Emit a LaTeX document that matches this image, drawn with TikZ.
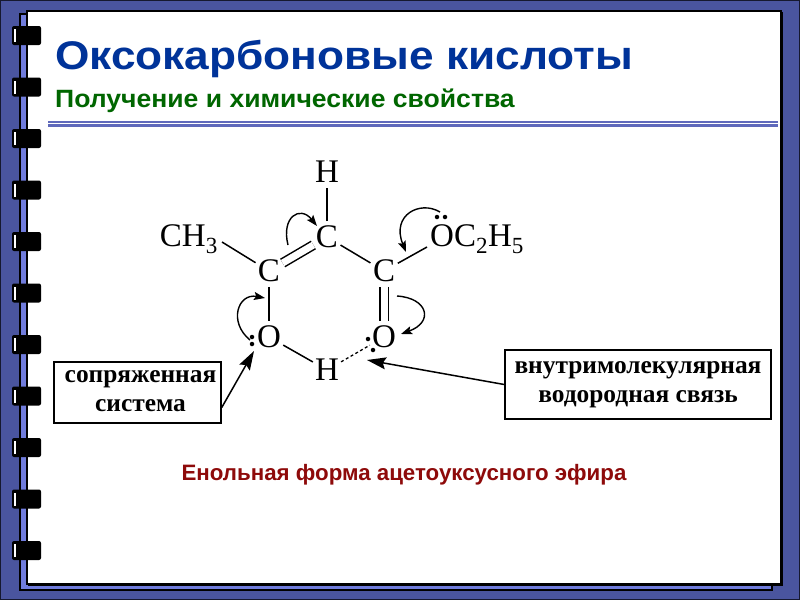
\documentclass[tikz,border=0pt]{standalone}
\usepackage{fontspec}
\setmainfont{Liberation Serif}
\setsansfont{Liberation Sans}
\usetikzlibrary{arrows.meta,positioning}
\definecolor{slideblue}{HTML}{4A559F}
\definecolor{stripblue}{HTML}{707CDC}
\definecolor{titleblue}{HTML}{003399}
\definecolor{subgreen}{HTML}{006600}
\definecolor{captionred}{HTML}{8E0A0A}
\newcommand{\boxline}[1]{\raisebox{3pt}{\hspace*{6pt}#1}}
\tikzset{
  atom/.style={circle, inner sep=0pt, font=\fontsize{33}{36}\selectfont},
  group/.style={inner sep=0pt, font=\fontsize{33}{36}\selectfont},
  bond/.style={line width=1.5pt},
  dbond/.style={double, double distance=7pt, line width=1.5pt},
  hbond/.style={line width=1.3pt, dash pattern=on 3pt off 2.5pt},
  pair/.style={circle, fill=black, inner sep=0pt, minimum size=4.5pt},
  shift arrow/.style={line width=1.4pt, -{Stealth[length=11pt,width=8pt,inset=2pt]}},
  callout/.style={draw, line width=1.5pt, align=center, inner sep=0pt,
    font=\fontsize{25.4}{28.5}\selectfont\bfseries},
  callout arrow/.style={line width=1.5pt, -{Stealth[length=19pt,width=12pt,inset=3pt]}}
}
\begin{document}
\begin{tikzpicture}[x=1pt, y=-1pt, on grid]
    \useasboundingbox (0,0) rectangle (800,600);

    % page
    \fill[slideblue] (0,0) rectangle (800,600);
    \draw[black!70!slideblue, line width=1pt] (0.5,0.5) rectangle (799.5,599.5);
    \draw[fill=stripblue, line width=1.5pt] (20,14) rectangle (772,590);
    \draw[fill=white, line width=1.5pt] (27,11) rectangle (781,584);
    \draw[line width=1.5pt] (782.5,12) -- (782.5,585.5) -- (28,585.5);

    % rings
    \foreach \ringy in {26,77.5,129,180.5,232,283.5,335,386.5,438,489.5,541}
    {
      \fill[black, rounded corners=2pt] (12,\ringy) rectangle (41,\ringy+19);
      \fill[white] (13.5,\ringy+3) rectangle (16,\ringy+16);
    }

    \node[anchor=base west, font=\fontsize{40}{44}\selectfont\sffamily\bfseries\addfontfeature{FakeStretch=1.105}, text=titleblue, inner sep=0pt] (title) at (55,69) {Оксокарбоновые кислоты};
    \node[anchor=base west, font=\fontsize{25}{28}\selectfont\sffamily\bfseries\addfontfeature{FakeStretch=1.062}, text=subgreen, inner sep=0pt] (subtitle) at (55,107) {Получение и химические свойства};
    \fill[stripblue!85!black] (48,121) rectangle (778,123);
    \fill[stripblue!85!black] (48,124.2) rectangle (778,127);

    % molecule
    \node[atom] (C1) at (327,237) {C};
    \node[atom] (H1) [above=65pt of C1] {H};
    \node[atom] (C2) [below left=34pt and 58pt of C1] {C};
    \node[atom] (C3) [below right=34pt and 57pt of C1] {C};
    \node[atom] (O1) [below=66pt of C2] {O};
    \node[atom] (O2) [below=66pt of C3] {O};
    \node[atom] (H2) at (327,370) {H};
    \node[group, anchor=east] (CH3) at (218,239) {CH\textsubscript{3}};
    \node[group, anchor=west] (OEt) at (430,239) {OC\textsubscript{2}H\textsubscript{5}};

    \path (C1) edge [bond] (H1)
          (C2) edge [dbond] (C1)
          (C1) edge [bond] (C3)
          ([xshift=4pt,yshift=-3pt]CH3.east) edge [bond] (C2)
          (C3) edge [bond] ([xshift=-3pt,yshift=-8pt]OEt.west)
          (C2) edge [bond] (O1)
          (C3) edge [dbond] (O2)
          (O1) edge [bond] (H2)
          (H2) edge [hbond] (O2);

    % lone pairs
    \node[pair] (e1) at (252,337) {};
    \node[pair] (e2) at (252,344) {};
    \node[pair] (e3) at (368,339) {};
    \node[pair] (e4) at (373,350) {};
    \node[pair] (e5) at (437,217) {};
    \node[pair] (e6) at (445,217) {};

    % electron shifts
    \coordinate (a1) at (288,245);
    \coordinate (a2) at (317,226);
    \coordinate (b1) at (440,212);
    \coordinate (b2) at (406,252);
    \coordinate (c1) at (250,340);
    \coordinate (c2) at (265,298);
    \coordinate (d1) at (397,296);
    \coordinate (d2) at (401,334);
    \draw[shift arrow] (a1) .. controls (281,217) and (300,205) .. (a2);
    \draw[shift arrow] (b1) .. controls (420,200) and (391,215) .. (b2);
    \draw[shift arrow] (c1) .. controls (228,322) and (238,293) .. (c2);
    \draw[shift arrow] (d1) .. controls (428,298) and (434,322) .. (d2);

    % boxes
    \node[callout, minimum width=167pt, minimum height=61pt] (conj) at (137.5,392.5) {\boxline{сопряженная}\\\boxline{система}};
    \node[callout, minimum width=266pt, minimum height=69pt] (hyd) at (638,384.5) {внутримолекулярная\\водородная связь};
    \coordinate (conjtip) at (254,351);
    \coordinate (hydtip) at (367,360);
    \draw[callout arrow] ([yshift=-15pt]conj.east) -- (conjtip);
    \draw[callout arrow] (hyd.west) -- (hydtip);

    \node[font=\fontsize{22.3}{25}\selectfont\sffamily\bfseries, text=captionred, inner sep=0pt] (caption) at (404,475) {Енольная форма ацетоуксусного эфира};
  \end{tikzpicture}
\end{document}
